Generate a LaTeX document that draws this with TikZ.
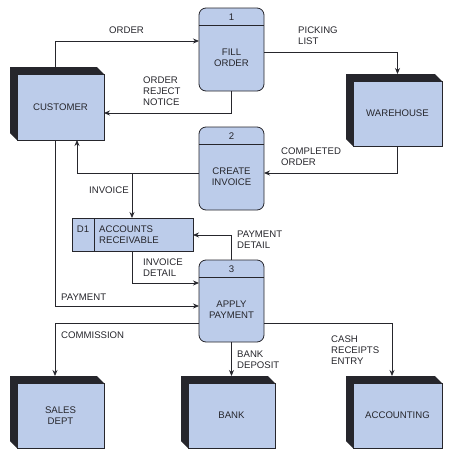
\documentclass[tikz,border=0pt]{standalone}
\usepackage{fontspec}
\setmainfont{Liberation Sans}
\usetikzlibrary{arrows.meta,calc}
\definecolor{boxfill}{RGB}{188,204,234}
\definecolor{ink}{RGB}{38,38,44}
\newcommand{\entitybox}[6]{%
  \node[entity, minimum width=#4pt, minimum height=#5pt] (#1) at (#2,#3) {#6};
  \fill[ink] ($(#1.north west)+(-7,-7)$) -- ($(#1.north east)+(-7,-7)$) -- (#1.north east)
     -- (#1.north west) -- (#1.south west) -- ($(#1.south west)+(-7,-7)$) -- cycle;
}
\newcommand{\procbox}[6]{% name, cx, cy, h, number, text
  \node[proc, minimum height=#4pt] (#1) at (#2,#3) {};
  \draw[ink, line width=0.8pt] ($(#1.north west)+(0,17)$) -- ($(#1.north east)+(0,17)$);
  \node[txt] (#1num) at ($(#1.north)+(0,9)$) {#5};
  \node[txt] (#1txt) at ($(#1.north)!0.5!(#1.south)+(0,8.5)$) {#6};
}
\begin{document}
\begin{tikzpicture}[x=1pt,y=-1pt,
  font=\fontsize{9.6}{11.2}\selectfont,
  entity/.style={draw=ink, fill=boxfill, line width=0.8pt, inner sep=0, outer sep=0, align=center, text=ink},
  proc/.style={draw=ink, fill=boxfill, rounded corners=7pt, line width=0.8pt, inner sep=0, outer sep=0, minimum width=65pt},
  txt/.style={inner sep=0, align=center, text=ink},
  lbl/.style={anchor=west, inner sep=0, align=left, text=ink},
  flow/.style={draw=ink, line width=0.8pt, -{Stealth[length=6pt,width=5pt]}}]
\useasboundingbox (0,0) rectangle (450,456);

% external entities
\entitybox{customer}{60.5}{107}{87}{66}{CUSTOMER}
\entitybox{warehouse}{397.5}{113.5}{89}{65}{WAREHOUSE}
\entitybox{sales}{60.5}{415.5}{87}{65}{SALES\\DEPT}
\entitybox{bank}{231.5}{415.5}{87}{65}{BANK}
\entitybox{accounting}{397.5}{415.5}{89}{65}{ACCOUNTING}

% processes
\procbox{fill}{231.5}{49.5}{83}{1}{FILL\\ORDER}
\procbox{invoice}{231.5}{168.5}{83}{2}{CREATE\\INVOICE}
\procbox{apply}{231.5}{301}{82}{3}{APPLY\\PAYMENT}

% data store
\node[draw=ink, fill=boxfill, line width=0.8pt, minimum width=121pt, minimum height=33pt, inner sep=0, outer sep=0] (d1) at (132.5,234.5) {};
\draw[ink, line width=0.8pt] (94,0 |- d1.north) -- (94,0 |- d1.south);
\node[txt] (d1id) at (83,229) {D1};
\node[lbl] (d1txt) at (99,234.5) {ACCOUNTS\\RECEIVABLE};

% helper coordinates
\coordinate (o1) at (55,41);
\coordinate (r1) at (232,113);
\coordinate (p1) at (397,52);
\coordinate (c1) at (0,173);
\coordinate (i1) at (77,0);
\coordinate (j1) at (132,173);
\coordinate (pd) at (0,235);
\coordinate (id) at (0,283);
\coordinate (pm) at (0,306);
\coordinate (cm) at (0,323);
\coordinate (k1) at (392,0);

% flows
\draw[flow] (customer.north -| o1) |- (fill.west |- o1);
\draw[flow] (fill.south) |- (customer.east |- r1);
\draw[flow] (fill.east |- p1) -| ($(warehouse.north)+(0,-7)$);
\draw[flow] (warehouse.south) |- (invoice.east |- c1);
\draw[flow] (invoice.west |- c1) -| (customer.south -| i1);
\draw[flow] (j1) -- (d1.north -| j1);
\draw[flow] (apply.north) |- (d1.east |- pd);
\draw[flow] (d1.south -| j1) |- (apply.west |- id);
\draw[flow] (customer.south -| o1) |- (apply.west |- pm);
\draw[flow] (apply.west |- cm) -| ($(sales.north -| o1)+(0,-7)$);
\draw[flow] (apply.south) -- ($(bank.north)+(0,-7)$);
\draw[flow] (apply.east |- cm) -| ($(accounting.north -| k1)+(0,-7)$);

% labels
\node[lbl] (lorder) at (109,30) {ORDER};
\node[lbl] (lreject) at (143,91) {ORDER\\REJECT\\NOTICE};
\node[lbl] (lpick) at (298,36) {PICKING\\LIST};
\node[lbl] (lcomp) at (281,157) {COMPLETED\\ORDER};
\node[lbl] (linv) at (89,190) {INVOICE};
\node[lbl] (lpdet) at (237,240) {PAYMENT\\DETAIL};
\node[lbl] (lidet) at (143,268) {INVOICE\\DETAIL};
\node[lbl] (lpay) at (61,297) {PAYMENT};
\node[lbl] (lcom) at (61,335) {COMMISSION};
\node[lbl] (lcash) at (331,350) {CASH\\RECEIPTS\\ENTRY};
\node[lbl] (lbank) at (237,360) {BANK\\DEPOSIT};
\end{tikzpicture}
\end{document}
